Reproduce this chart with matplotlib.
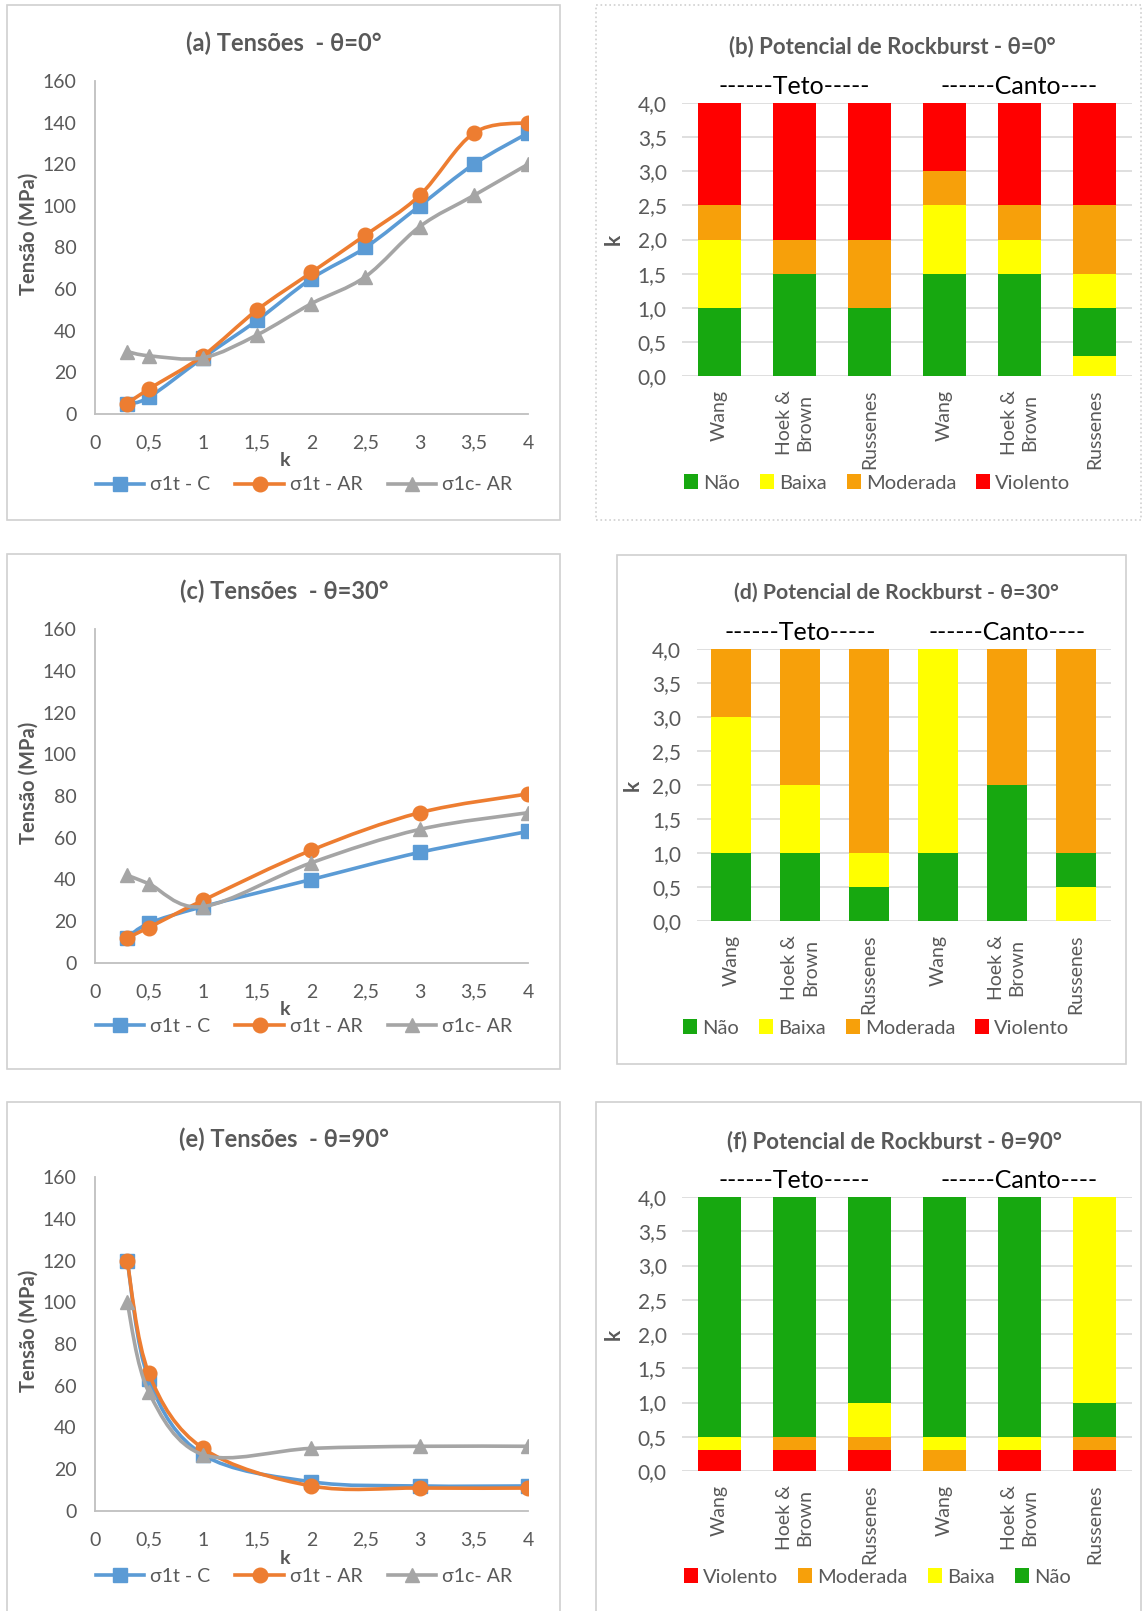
import numpy as np
import matplotlib
matplotlib.use("Agg")
import matplotlib.pyplot as plt
from matplotlib.path import Path
from matplotlib.patches import PathPatch, Rectangle, Patch
from matplotlib.lines import Line2D
from matplotlib.transforms import blended_transform_factory

plt.rcParams['font.family'] = ['Lato', 'DejaVu Sans']

W, H = 1143, 1611
GRAY_TXT = '#595959'

# ---- dados: tensões ----
series_names = ["σ1t - C", "σ1t - AR", "σ1c- AR"]
series_colors = ['#5B9BD5', '#ED7D31', '#A5A5A5']
series_markers = ['s', 'o', '^']

k_a = [0.3, 0.5, 1, 1.5, 2, 2.5, 3, 3.5, 4]
s1t_c_a = [5, 8, 27, 45, 65, 80, 100, 120, 135]
s1t_ar_a = [5, 12, 28, 50, 68, 86, 105, 135, 140]
s1c_ar_a = [30, 28, 27, 38, 53, 66, 90, 105, 120]

k_c = [0.3, 0.5, 1, 2, 3, 4]
s1t_c_c = [12, 19, 27, 40, 53, 63]
s1t_ar_c = [12, 17, 30, 54, 72, 81]
s1c_ar_c = [42, 38, 27, 48, 64, 72]

k_e = [0.3, 0.5, 1, 2, 3, 4]
s1t_c_e = [120, 63, 27, 14, 12, 12]
s1t_ar_e = [120, 66, 30, 12, 11, 11]
s1c_ar_e = [100, 57, 27, 30, 31, 31]

# ---- dados: potencial de rockburst ----
# classe por intervalo de k (N=Não, B=Baixa, M=Moderada, V=Violento)
k_edges = [0, 0.3, 0.5, 1.0, 1.5, 2.0, 2.5, 3.0, 3.5, 4.0]
methods = ["Wang", "Hoek &\nBrown", "Russenes", "Wang", "Hoek &\nBrown", "Russenes"]
class_names = {'N': 'Não', 'B': 'Baixa', 'M': 'Moderada', 'V': 'Violento'}
class_colors = {'N': '#17A810', 'B': '#FFFF00', 'M': '#F7A00A', 'V': '#FF0000'}

rb_b = ["NNNBBMVVV", "NNNNMVVVV", "NNNMMVVVV", "NNNNBBMVV", "NNNNBMVVV", "BNNBMMVVV"]
rb_d = ["NNNBBBBMM", "NNNBBMMMM", "NNBMMMMMM", "NNNBBBBBB", "NNNNNMMMM", "BBNMMMMMM"]
rb_f = ["VBNNNNNNN", "VMNNNNNNN", "VMBNNNNNN", "MBNNNNNNN", "VBNNNNNNN", "VMNBBBBBB"]

fig = plt.figure(figsize=(W / 100, H / 100), dpi=100)


def axes_px(left, top, right, bottom):
    return fig.add_axes([left / W, 1 - bottom / H, (right - left) / W, (bottom - top) / H])


def border(left, top, right, bottom, ls='-'):
    fig.add_artist(Rectangle((left / W, 1 - bottom / H), (right - left) / W, (bottom - top) / H,
                             transform=fig.transFigure, fill=False, edgecolor='#D0D0D0',
                             lw=1.2, linestyle=ls))


def smooth_path(x, y):
    # curva suavizada tipo Excel (Catmull-Rom em Bezier)
    pts = np.column_stack([x, y]).astype(float)
    n = len(pts)
    verts = [pts[0]]
    codes = [Path.MOVETO]
    for i in range(n - 1):
        p0 = pts[i - 1] if i > 0 else pts[i]
        p1 = pts[i]
        p2 = pts[i + 1]
        p3 = pts[i + 2] if i + 2 < n else pts[i + 1]
        verts += [p1 + (p2 - p0) / 6, p2 - (p3 - p1) / 6, p2]
        codes += [Path.CURVE4] * 3
    return Path(verts, codes)


def line_panel(box, ax_box, title, title_y, k, ys, leg_y, klab_y):
    border(*box)
    ax = axes_px(*ax_box)
    handles = []
    for z, (y, c, m) in enumerate(zip(ys, series_colors, series_markers)):
        ax.add_patch(PathPatch(smooth_path(k, y), facecolor='none', edgecolor=c,
                               lw=2.6, zorder=3 + 2 * z, capstyle='round'))
        ax.plot(k, y, linestyle='none', marker=m, color=c, markersize=10.5, zorder=4 + 2 * z)
        handles.append(Line2D([], [], color=c, lw=2.6, marker=m, markersize=10.5))
    ax.set_xlim(0, 4)
    ax.set_ylim(0, 160)
    ax.set_xticks(np.arange(0, 4.01, 0.5))
    ax.set_xticklabels(['0', '0,5', '1', '1,5', '2', '2,5', '3', '3,5', '4'])
    ax.set_yticks(np.arange(0, 161, 20))
    ax.tick_params(length=0, labelsize=14, labelcolor=GRAY_TXT)
    ax.tick_params(axis='y', pad=13)
    ax.tick_params(axis='x', pad=15)
    for s in ['top', 'right']:
        ax.spines[s].set_visible(False)
    for s in ['left', 'bottom']:
        ax.spines[s].set_color('#BFBFBF')
        ax.spines[s].set_linewidth(1.3)
    ax.set_ylabel('Tensão (MPa)', fontsize=14.5, fontweight='bold', color=GRAY_TXT)
    ax.yaxis.set_label_coords(-0.13, 0.54)
    ax.set_xlabel('k', fontsize=14, fontweight='bold', color=GRAY_TXT)
    ax.xaxis.set_label_coords(0.44, 1 - (klab_y - ax_box[1]) / (ax_box[3] - ax_box[1]))
    fig.text(284 / W, 1 - title_y / H, title, ha='center', va='center',
             fontsize=17, fontweight='bold', color=GRAY_TXT)
    fig.legend(handles, series_names, loc='center', bbox_to_anchor=(304 / W, 1 - leg_y / H),
               ncol=3, frameon=False, fontsize=14, labelcolor=GRAY_TXT,
               handlelength=2.5, handletextpad=0.3, columnspacing=1.3)
    return ax


def bar_panel(box, ax_box, title, title_y, title_x, title_fs, seqs, leg_y, leg_x, leg_order, ls='-'):
    border(*box, ls=ls)
    ax = axes_px(*ax_box)
    for i, seq in enumerate(seqs):
        j = 0
        while j < len(seq):
            e = j
            while e + 1 < len(seq) and seq[e + 1] == seq[j]:
                e += 1
            ax.bar(i, k_edges[e + 1] - k_edges[j], bottom=k_edges[j], width=0.57,
                   color=class_colors[seq[j]], lw=0, zorder=3)
            j = e + 1
    ax.set_xlim(-0.5, len(seqs) - 0.5)
    ax.set_ylim(0, 4)
    ax.set_yticks(np.arange(0, 4.01, 0.5))
    ax.set_yticklabels([f'{v:.1f}'.replace('.', ',') for v in np.arange(0, 4.01, 0.5)])
    ax.set_xticks(range(len(seqs)))
    ax.set_xticklabels(methods, rotation=90, linespacing=1.25)
    ax.tick_params(length=0, labelsize=14, labelcolor=GRAY_TXT)
    ax.tick_params(axis='y', labelsize=15, pad=11)
    ax.tick_params(axis='x', pad=10)
    for s in ax.spines.values():
        s.set_visible(False)
    ax.yaxis.grid(True, color='#D9D9D9', lw=1.2, zorder=0)
    ax.set_axisbelow(True)
    ax.set_ylabel('k', fontsize=15, fontweight='bold', color=GRAY_TXT)
    ax.yaxis.set_label_coords(-0.13, 0.5)
    tr = blended_transform_factory(ax.transData, ax.transAxes)
    ax.text(1, 1.062, '------Teto-----', transform=tr, ha='center', va='center', fontsize=18)
    ax.text(4, 1.062, '------Canto----', transform=tr, ha='center', va='center', fontsize=18)
    fig.text(title_x / W, 1 - title_y / H, title, ha='center', va='center',
             fontsize=title_fs, fontweight='bold', color=GRAY_TXT)
    handles = [Patch(facecolor=class_colors[c]) for c in leg_order]
    fig.legend(handles, [class_names[c] for c in leg_order], loc='center',
               bbox_to_anchor=(leg_x / W, 1 - leg_y / H), ncol=4, frameon=False,
               fontsize=14.5, labelcolor=GRAY_TXT, handlelength=0.7, handleheight=0.7,
               handletextpad=0.25, columnspacing=1.0)
    return ax


line_panel((7, 5, 560, 520), (94.6, 81, 528, 414), '(a) Tensões  - θ=0°', 43,
           k_a, [s1t_c_a, s1t_ar_a, s1c_ar_a], 485, 452)
line_panel((7, 554, 560, 1069), (94.6, 629, 528, 963), '(c) Tensões  - θ=30°', 591,
           k_c, [s1t_c_c, s1t_ar_c, s1c_ar_c], 1026, 1001)
line_panel((7, 1102, 560, 1620), (94.6, 1177, 528, 1511), '(e) Tensões  - θ=90°', 1139,
           k_e, [s1t_c_e, s1t_ar_e, s1c_ar_e], 1576, 1550)

bar_panel((596, 5, 1141, 520), (682, 103, 1132, 376), '(b) Potencial de Rockburst - θ=0°', 47, 892, 16,
          rb_b, 483, 877, 'NBMV', ls=':')
bar_panel((617, 555, 1126, 1064), (696.5, 649, 1110.5, 921), '(d) Potencial de Rockburst - θ=30°', 593, 896, 15.3,
          rb_d, 1028, 876, 'NBMV')
bar_panel((596, 1102, 1141, 1620), (682, 1197, 1132, 1471), '(f) Potencial de Rockburst - θ=90°', 1142, 894, 16,
          rb_f, 1577, 877, 'VMBN')

fig.savefig('out.png', dpi=100)
